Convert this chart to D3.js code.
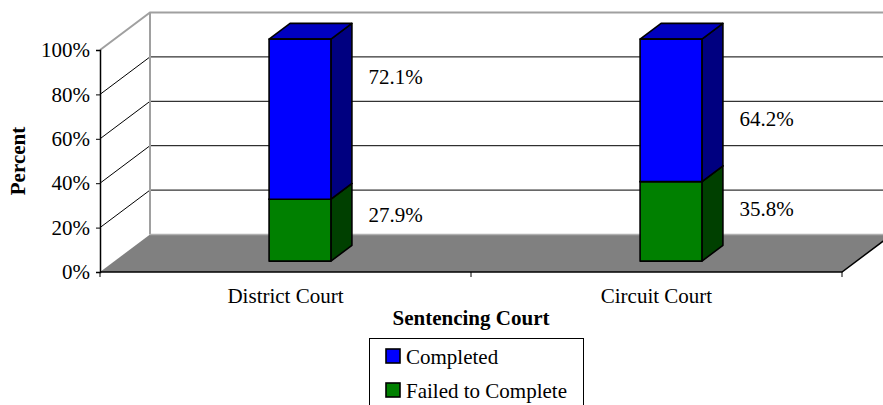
<!DOCTYPE html>
<html>
<head>
<meta charset="utf-8">
<script src="https://cdn.jsdelivr.net/npm/d3@7"></script>
<style>
  body { margin: 0; background: #fff; }
  text { font-family: "Liberation Serif", "Times New Roman", serif; font-size: 21px; fill: #000; }
</style>
</head>
<body>
<svg id="chart" width="883" height="405"></svg>
<script>
// chart data
let courts = ["District Court", "Circuit Court"];
let failed = [0.279, 0.358];
let completed = [0.721, 0.642];
let yTicks = [0, 0.2, 0.4, 0.6, 0.8, 1];
let seriesNames = ["Completed", "Failed to Complete"];

// where excel put the value labels (in percent units)
let completedLabelAt = [0.847, 0.658];
let failedLabelAt = [0.225, 0.252];

let svg = d3.select('#chart');

let plotLeft = 100, plotRight = 842, plotBottom = 272, plotTop = 50;
let depthX = 50, depthY = 37.5;

let xScale = d3.scaleBand().domain(courts).range([plotLeft, plotRight]);
let yScale = d3.scaleLinear().domain([0, 1]).range([plotBottom, plotTop]);

// shift a front plane point back by fraction d of the depth
let back = (x, y, d) => [x + depthX * d, y - depthY * d];
let pts = arr => arr.map(p => p.join(',')).join(' ');

let wallColor = '#a0a0a0';

// floor
svg.append('polygon')
  .attr('points', pts([[plotLeft, plotBottom], back(plotLeft, plotBottom, 1), back(plotRight, plotBottom, 1), [plotRight, plotBottom]]))
  .attr('fill', '#808080');

// back wall grid lines and side wall diagonals
yTicks.filter(v => v > 0 && v < 1).forEach(v => {
  let b = back(plotLeft, yScale(v), 1);
  svg.append('line')
    .attr('x1', b[0]).attr('y1', b[1])
    .attr('x2', plotRight + depthX).attr('y2', b[1])
    .attr('stroke', '#000').attr('stroke-width', 1);
  svg.append('line')
    .attr('x1', plotLeft).attr('y1', yScale(v))
    .attr('x2', b[0]).attr('y2', b[1])
    .attr('stroke', '#000').attr('stroke-width', 1);
});

// wall borders
let topBack = back(plotLeft, yScale(1), 1);
let floorBack = back(plotLeft, yScale(0), 1);
svg.append('polyline')
  .attr('points', pts([[plotLeft, yScale(1)], topBack, [plotRight + depthX, topBack[1]]]))
  .attr('fill', 'none').attr('stroke', wallColor).attr('stroke-width', 2);
svg.append('line')
  .attr('x1', topBack[0]).attr('y1', topBack[1])
  .attr('x2', floorBack[0]).attr('y2', floorBack[1])
  .attr('stroke', wallColor).attr('stroke-width', 2);
svg.append('line')
  .attr('x1', floorBack[0]).attr('y1', floorBack[1])
  .attr('x2', plotRight + depthX).attr('y2', floorBack[1])
  .attr('stroke', '#b0b0b0').attr('stroke-width', 1.5);

// floor front and right edges
svg.append('polyline')
  .attr('points', pts([[plotLeft, plotBottom], [plotRight, plotBottom], back(plotRight, plotBottom, 1)]))
  .attr('fill', 'none').attr('stroke', '#000').attr('stroke-width', 1.5);

// x ticks at band edges
[plotLeft, plotLeft + xScale.bandwidth(), plotRight].forEach(x => {
  svg.append('line')
    .attr('x1', x).attr('y1', plotBottom).attr('x2', x).attr('y2', plotBottom + 5)
    .attr('stroke', '#000').attr('stroke-width', 1);
});

// y axis
let yAxis = d3.axisLeft(yScale).tickValues(yTicks).tickFormat(d3.format('.0%')).tickSize(4).tickPadding(6);
let yG = svg.append('g').attr('transform', `translate(${plotLeft},0)`).call(yAxis)
  .attr('font-family', 'Liberation Serif').attr('font-size', 21);
yG.select('.domain').attr('stroke', '#000').attr('stroke-width', 1.5);
yG.selectAll('.tick line').attr('stroke', '#000');
yG.selectAll('.tick text').attr('fill', '#000');

// bars
let d0 = 0.29, d1 = 0.71;
let barW = xScale.bandwidth() / 6;

let drawBox = (cx, v0, v1, front, side, topc) => {
  let x0 = cx - barW / 2, x1 = cx + barW / 2;
  let y0 = yScale(v0), y1 = yScale(v1);
  let a = back(x0, y0, d0), b = back(x1, y0, d0), c = back(x1, y1, d0), e = back(x0, y1, d0);
  let b2 = back(x1, y0, d1), c2 = back(x1, y1, d1), e2 = back(x0, y1, d1);
  let g = svg.append('g').attr('stroke', '#000').attr('stroke-width', 1.6).attr('stroke-linejoin', 'round');
  g.append('polygon').attr('points', pts([b, b2, c2, c])).attr('fill', side);
  g.append('polygon').attr('points', pts([e, c, c2, e2])).attr('fill', topc);
  g.append('polygon').attr('points', pts([a, b, c, e])).attr('fill', front);
};

courts.forEach((court, i) => {
  let cx = xScale(court) + xScale.bandwidth() / 2;
  drawBox(cx, 0, failed[i], '#008000', '#004000', '#006000');
  drawBox(cx, failed[i], failed[i] + completed[i], '#0000ff', '#000080', '#0000c0');

  svg.append('text')
    .attr('x', cx + 110).attr('y', yScale(completedLabelAt[i]))
    .attr('text-anchor', 'middle')
    .text(d3.format('.1%')(completed[i]));
  svg.append('text')
    .attr('x', cx + 110).attr('y', yScale(failedLabelAt[i]))
    .attr('text-anchor', 'middle')
    .text(d3.format('.1%')(failed[i]));

  svg.append('text')
    .attr('x', cx).attr('y', 303)
    .attr('text-anchor', 'middle')
    .text(court);
});

// axis titles
svg.append('text')
  .attr('x', plotLeft + xScale.bandwidth()).attr('y', 325)
  .attr('text-anchor', 'middle').style('font-weight', 'bold')
  .text('Sentencing Court');

svg.append('text')
  .attr('transform', `translate(25,${(plotTop + plotBottom) / 2}) rotate(-90)`)
  .attr('text-anchor', 'middle').style('font-weight', 'bold')
  .text('Percent');

// legend
let legend = svg.append('g');
legend.append('rect')
  .attr('x', 369.5).attr('y', 338.5).attr('width', 214).attr('height', 80)
  .attr('fill', '#fff').attr('stroke', '#000').attr('stroke-width', 1);
let legendColors = ['#0000ff', '#008000'];
seriesNames.forEach((name, i) => {
  let y = 364 + i * 34;
  legend.append('rect')
    .attr('x', 386).attr('y', y - 15).attr('width', 14).attr('height', 14)
    .attr('fill', legendColors[i]).attr('stroke', '#000').attr('stroke-width', 1.6);
  legend.append('text')
    .attr('x', 406).attr('y', y)
    .text(name);
});
</script>
</body>
</html>
